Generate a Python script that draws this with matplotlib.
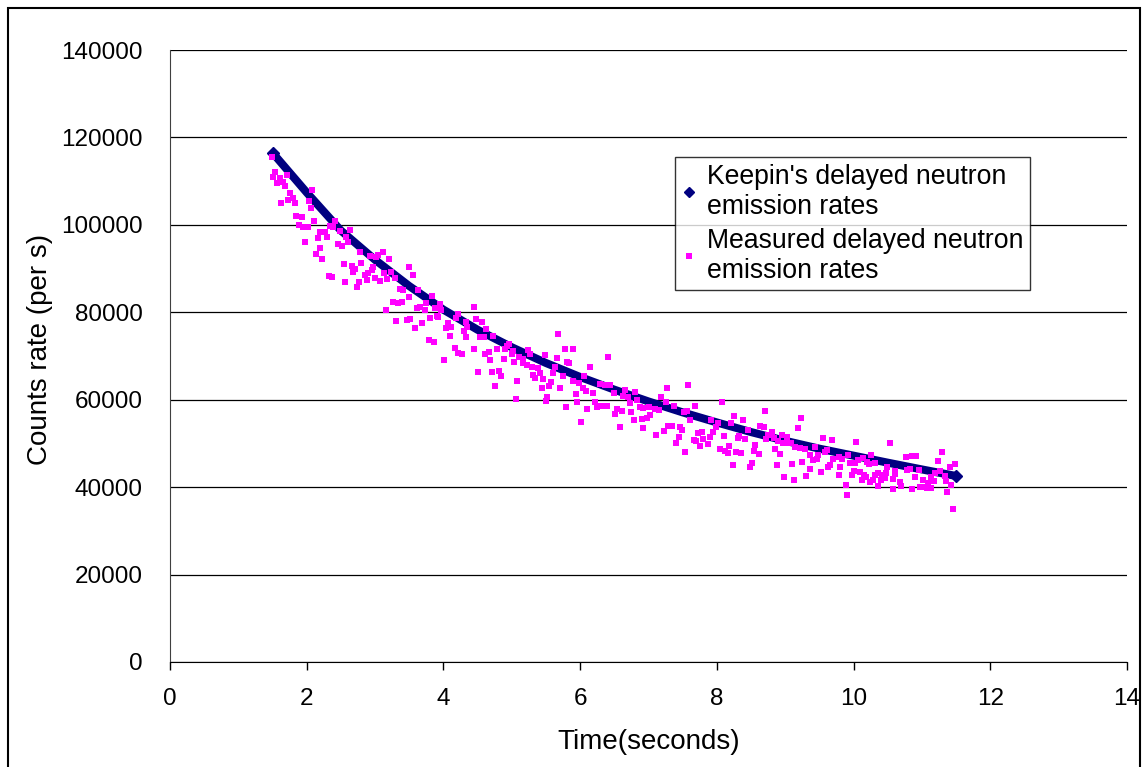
import matplotlib
matplotlib.use("Agg")
import matplotlib.pyplot as plt
from matplotlib.lines import Line2D
from matplotlib.patches import Rectangle

plt.rcParams["font.family"] = ["Liberation Sans", "DejaVu Sans"]

# Keepin's delayed neutron emission rates
keepin_t = [1.5, 2.0, 2.5, 3.0, 3.5, 4.0, 4.5, 5.0, 5.5, 6.0, 6.5,
            7.0, 7.5, 8.0, 8.5, 9.0, 9.5, 10.0, 10.5, 11.0, 11.5]
keepin_rate = [116500, 107400, 98700, 92000, 86000, 80600, 76000, 72000, 68400, 65200, 62300,
               59600, 57100, 54800, 52600, 50600, 48800, 47200, 45600, 44050, 42550]

# Measured delayed neutron emission rates
meas_t = [
    1.49, 1.54, 1.51, 1.61, 1.71, 1.56, 1.66, 1.68, 1.76, 1.73, 1.80, 1.83, 1.63,
    2.08, 2.04, 2.06, 1.85, 1.93, 1.88, 1.95, 2.02, 2.10, 2.41, 2.34, 2.39, 2.49,
    2.63, 2.19, 2.27, 2.17, 2.29, 1.97, 2.20, 2.14, 2.23, 2.46, 2.51, 2.58, 2.61,
    2.78, 2.80, 2.54, 2.66, 2.71, 2.68, 2.32, 2.37, 2.56, 2.76, 2.73, 2.85, 2.90, 2.88,
    2.93, 3.02, 3.05, 3.11, 3.21, 2.97, 2.95, 3.00, 3.07, 3.13, 3.18, 3.23, 3.29,
    3.49, 3.55, 3.36, 3.41, 3.50, 3.63, 3.83, 3.26, 3.33, 3.39, 3.16, 3.31, 3.46,
    3.51, 3.58, 3.68, 3.62, 3.66, 3.73, 3.75, 3.88, 3.90, 3.95, 3.97, 3.80, 3.92,
    4.06, 4.04, 4.11, 4.09, 4.22, 4.19, 4.33, 4.35, 4.30, 4.33, 3.79, 3.86, 4.17,
    4.22, 4.27, 4.01,
    4.44, 4.48, 4.56, 4.63, 4.53, 4.59, 4.73, 4.45, 4.61, 4.67, 4.68, 4.78, 4.93,
    4.96, 4.90, 5.02, 5.00, 4.88, 5.03, 5.10, 5.17, 5.24, 5.27, 5.17, 5.22, 5.29,
    5.39, 5.41, 5.31, 5.34, 5.46, 5.44, 5.55, 5.58, 5.61, 5.63, 5.66, 5.75, 5.78,
    5.81, 5.84, 5.70, 5.49, 5.68, 4.51, 4.71, 4.82, 4.84, 4.75, 5.08, 5.06, 5.52,
    5.50, 5.80,
    5.90, 6.41, 6.15, 6.06, 5.89, 5.99, 5.94, 6.04, 6.09, 6.19, 6.29, 6.36, 6.44,
    6.49, 6.66, 6.80, 6.63, 6.70, 6.83, 6.22, 6.31, 6.39, 6.24, 5.95, 6.10, 6.54,
    6.61, 6.51, 6.73, 6.74, 6.88, 6.92, 7.01, 7.09, 7.19, 7.27, 7.26, 7.16, 7.02,
    6.98, 6.90, 6.79, 6.01, 6.58, 6.92, 7.11, 7.23, 7.29,
    7.58, 7.37, 7.52, 7.56, 7.68, 8.08, 8.70, 7.61, 7.34, 7.46, 7.49, 7.44, 7.40,
    7.73, 7.78, 7.66, 7.70, 7.80, 7.90, 7.75, 7.87, 7.92, 8.02, 7.99, 7.95, 8.10,
    8.20, 8.25, 8.38, 8.46, 8.33, 8.41, 8.31, 8.63, 8.69, 8.75, 8.72, 7.53, 8.05,
    8.12, 8.17, 8.18, 8.28, 8.36, 8.56, 8.54, 8.61, 8.51, 8.48, 8.23,
    9.23, 9.18, 8.80, 8.83, 8.95, 9.02, 8.90, 8.97, 9.05, 9.09, 8.85, 8.92, 9.14,
    9.22, 9.29, 9.44, 9.56, 9.68, 10.04, 9.36, 9.41, 9.46, 9.48, 9.58, 9.61, 9.70,
    9.78, 9.83, 9.92, 9.95, 10.02, 10.07, 10.14, 10.19, 10.23, 8.88, 9.10, 9.25,
    9.36, 9.30, 9.53, 9.63, 9.66, 9.80, 9.78, 9.97, 10.01, 10.09, 10.15, 10.12,
    10.18, 8.98, 9.13, 9.89, 9.91,
    10.26, 10.24, 10.53, 10.77, 10.85, 10.91, 11.29, 11.23, 11.48, 11.41, 10.31, 10.49,
    10.47, 10.36, 10.31, 10.41, 10.61, 10.61, 10.78, 10.95, 10.82, 10.29, 10.40,
    10.46, 10.58, 10.68, 10.90, 11.01, 11.13, 11.19, 11.26, 11.34, 11.35, 11.17,
    11.09, 11.02, 10.97, 11.07, 11.14, 10.36, 10.58, 10.69, 10.85, 11.36, 11.43, 11.46,
]
meas_rate = [
    115600, 112170, 111030, 110640, 111410, 109500, 109880, 108890, 107210, 105690, 106070, 105080, 104930,
    107980, 105540, 103780, 102030, 101720, 99970, 99440, 99590, 100960, 100960, 99740, 99440, 98670,
    98830, 98440, 98440, 96920, 97300, 96160, 94630, 93340, 92120, 95620, 95170, 97300, 96160,
    93870, 91350, 91050, 90590, 89830, 89290, 88300, 88150, 87010, 87010, 85860, 88530, 88910, 87390,
    92880, 92570, 93110, 93720, 92110, 90440, 89680, 87770, 87230, 89060, 87540, 89290, 87770,
    90440, 88530, 85250, 85100, 83420, 85100, 83730, 82430, 82200, 82430, 80520, 78080, 78240,
    78390, 76330, 77630, 80910, 81130, 80520, 82050, 80910, 79150, 81820, 80520, 78620, 79000,
    77470, 76330, 76710, 74580, 79610, 78620, 77860, 76710, 75800, 74430, 73660, 73280, 71760,
    70760, 70460, 69090,
    81290, 78390, 77860, 76100, 74270, 74420, 74580, 71530, 70460, 70990, 69090, 71530, 72290,
    72750, 71530, 71220, 70460, 69240, 68710, 69700, 69240, 71370, 70460, 68320, 67940, 67410,
    67180, 66040, 65660, 64890, 64660, 62600, 63140, 64130, 66040, 67560, 69470, 65430, 71530,
    68710, 68480, 62600, 70230, 75030, 66420, 66420, 66650, 65430, 63140, 64360, 60090, 60550,
    59780, 58410,
    71530, 69700, 67410, 65430, 64360, 63900, 61310, 62610, 62070, 61460, 63600, 63370, 63370,
    61610, 62220, 61840, 60850, 60550, 59940, 59550, 58560, 58560, 58410, 59550, 57950, 57800,
    57500, 56730, 59170, 57270, 58410, 58030, 58410, 57800, 60550, 62610, 59550, 57650, 56510,
    55740, 55520, 55360, 54980, 53680, 53460, 51930, 52920, 53990,
    63370, 58560, 57270, 57500, 58560, 59400, 57500, 55360, 53990, 53680, 53070, 51400, 50020,
    52460, 52690, 50790, 50630, 50940, 51400, 49410, 49870, 55360, 54750, 53680, 52690, 51700,
    54600, 56280, 55360, 53070, 51700, 50940, 51170, 53990, 53680, 51930, 50940, 48120, 48650,
    48350, 47890, 49410, 48120, 47890, 49640, 48350, 47580, 45600, 44690, 45070,
    55740, 53450, 52690, 51170, 51930, 51400, 50630, 50020, 50180, 50020, 48650, 47580, 49260,
    48880, 48650, 49110, 51170, 50790, 50400, 47350, 46210, 46360, 47350, 48120, 48500, 46360,
    46820, 46360, 47350, 45450, 45450, 46210, 46590, 45830, 45300, 45070, 45300, 45830,
    44070, 42550, 43540, 44530, 45070, 44690, 42780, 42780, 43770, 43540, 42780, 41640,
    42250, 42400, 41640, 40490, 38200,
    47350, 41260, 50020, 46820, 47120, 47120, 48120, 46060, 45300, 44530, 45450, 44530,
    43310, 43310, 42780, 42780, 43770, 43010, 43920, 43920, 44080, 41640, 41640,
    42020, 41790, 41260, 42400, 41640, 42400, 43160, 43770, 42550, 41480, 41480,
    40870, 39960, 40110, 39730, 39730, 40260, 39500, 40260, 39500, 38970, 40490, 34930,
]

fig = plt.figure(figsize=(11.44, 7.67), dpi=100)
ax = fig.add_axes([170 / 1144, 105 / 767, 957 / 1144, 612 / 767])

# outer chart border
fig.patches.append(Rectangle((8 / 1144, -0.05), 1132 / 1144, 1.05 - 8 / 767,
                             transform=fig.transFigure, fill=False,
                             edgecolor="black", linewidth=1.5))

ax.plot(keepin_t, keepin_rate, color="#000080", linewidth=5.8,
        solid_capstyle="butt", zorder=2)
ax.plot([keepin_t[0], keepin_t[-1]], [keepin_rate[0], keepin_rate[-1]], "D",
        color="#000080", markersize=5.8, zorder=2)
ax.plot(meas_t, meas_rate, "s", color="#FF00FF", markersize=4.7,
        markeredgewidth=0, zorder=3)

ax.set_xlim(0, 14)
ax.set_ylim(0, 140000)
ax.set_xticks(range(0, 15, 2))
ax.set_yticks(range(0, 140001, 20000))
ax.yaxis.grid(True, color="black", linewidth=0.9)
ax.set_axisbelow(True)
for side in ["top", "right"]:
    ax.spines[side].set_visible(False)
ax.spines["left"].set_color("#404040")
ax.spines["bottom"].set_color("black")
ax.tick_params(axis="x", labelsize=17.5, length=6, width=1, direction="out", pad=12.5)
ax.tick_params(axis="y", labelsize=17.5, length=0, pad=19.5)

ax.set_xlabel("Time(seconds)", fontsize=20)
ax.set_ylabel("Counts rate (per s)", fontsize=20)
ax.xaxis.label.set_verticalalignment("center")
ax.yaxis.label.set_verticalalignment("center")
ax.xaxis.set_label_coords(0.5, (662 - 742) / 612)
ax.yaxis.set_label_coords((40 - 170) / 957, 0.51)

handles = [
    Line2D([], [], linestyle="none", marker="D", color="#000080", markersize=5),
    Line2D([], [], linestyle="none", marker="s", color="#FF00FF", markersize=4.5,
           markeredgewidth=0),
]
labels = ["Keepin's delayed neutron\nemission rates",
          "Measured delayed neutron\nemission rates"]
leg = ax.legend(handles, labels, loc="upper left", bbox_to_anchor=(0.5277, 0.8252),
                borderaxespad=0, fontsize=19.2, frameon=True, fancybox=False,
                edgecolor="black", handlelength=0.55, handletextpad=0.4,
                borderpad=0.25, labelspacing=0.3)
leg.get_frame().set_linewidth(1.0)

fig.savefig("out.png", dpi=100)
